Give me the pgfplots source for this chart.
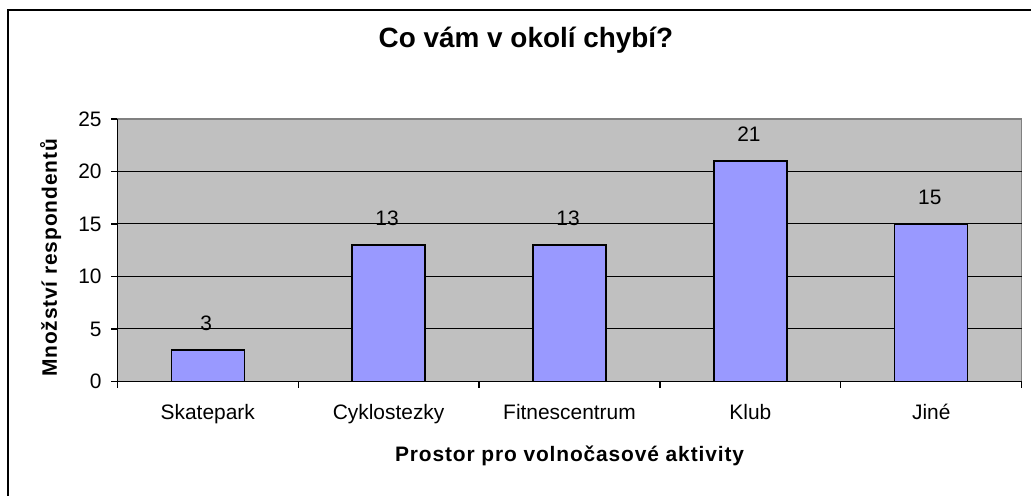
\documentclass[border=0pt]{standalone}
\usepackage{fontspec}
\setmainfont{Liberation Sans}
\usepackage{pgfplots}
\pgfplotsset{compat=1.18}
\definecolor{plotbg}{RGB}{192,192,192}
\definecolor{barfill}{RGB}{153,153,255}
\definecolor{frame}{RGB}{128,128,128}
\begin{document}
\begin{tikzpicture}
\useasboundingbox (0,0) rectangle (1031bp,496bp);
\fill[white] (0,0) rectangle (1031bp,496bp);
\draw[black, line width=1.5bp] (8bp,0) -- (8bp,486bp) -- (1031bp,486bp);
\begin{axis}[
  at={(117.3bp,114.5bp)}, anchor=south west,
  scale only axis, width=904.4bp, height=262.5bp,
  xmin=-0.5, xmax=4.5, ymin=0, ymax=25,
  ybar, bar width=73bp,
  axis background/.style={fill=plotbg, draw=frame, line width=1.3bp},
  axis x line*=bottom, axis y line*=left,
  axis line style={-, black, line width=1.3bp},
  tick align=outside, major tick length=6bp,
  tick style={black, line width=1.3bp},
  tick label style={font=\fontsize{21}{25}\selectfont},
  /pgf/number format/assume math mode=true,
  ytick={0,25},
  extra y ticks={5,10,15,20},
  extra y tick style={ymajorgrids=true, grid style={black, line width=1bp}},
  yticklabel style={anchor=east, inner sep=0pt, xshift=-9.5bp},
  xtick={-0.5,0.5,1.5,2.5,3.5,4.5},
  xticklabels={,,,,,},
  extra x ticks={0,1,2,3,4},
  extra x tick labels={Skatepark,Cyklostezky,Fitnescentrum,Klub,Jiné},
  extra x tick style={major tick length=0pt, xticklabel style={anchor=base, inner sep=0pt, yshift=-37.5bp}},
  title={Co vám v okolí chybí?},
  title style={font=\bfseries\fontsize{28}{33}\selectfont, at={(0.4519,1.2514)}, anchor=base, inner sep=0pt},
  xlabel={Prostor pro volnočasové aktivity},
  xlabel style={font=\bfseries\fontsize{21}{25}\selectfont\addfontfeatures{LetterSpace=4.2}, at={(0.5,-0.3055)}, anchor=base, inner sep=0pt},
  ylabel={Množství respondentů},
  ylabel style={font=\bfseries\fontsize{21}{25}\selectfont\addfontfeatures{LetterSpace=4.2}, at={(-0.0667,0.4705)}, anchor=base, inner sep=0pt},
  nodes near coords,
  every node near coord/.append style={font=\fontsize{21}{25}\selectfont, anchor=base, yshift=19.5bp, xshift=-1.5bp, inner sep=0pt, black},
]
\addplot[fill=barfill, draw=black, line width=1.3bp] coordinates {(0,3) (1,13) (2,13) (3,21) (4,15)};
\end{axis}
\end{tikzpicture}
\end{document}
